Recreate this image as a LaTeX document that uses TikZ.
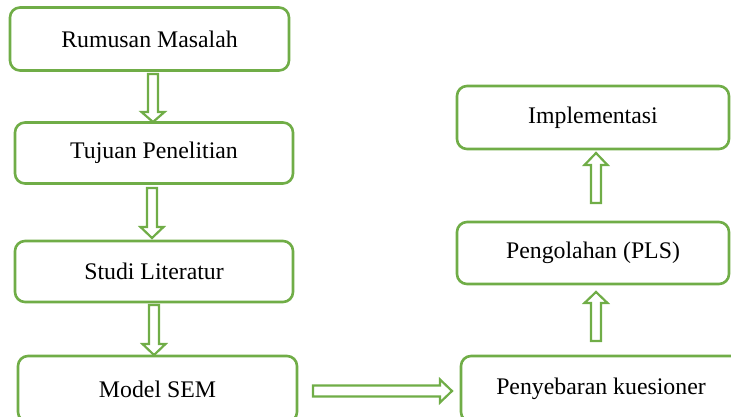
\documentclass[tikz,border=0pt]{standalone}
\usepackage{fontspec}
\setmainfont{Liberation Serif}
\definecolor{boxgreen}{HTML}{70AD47}
\tikzset{
  flowbox/.style={draw=boxgreen, line width=2.6pt, rounded corners=10pt, fill=white,
    font=\fontsize{23.8}{28}\selectfont, text=black, inner sep=0pt},
  blockarrow/.style={draw=boxgreen, line width=2.2pt, fill=white, line join=miter}
}
% x, start y, head base y, tip y
\newcommand{\vblock}[4]{%
  \draw[blockarrow] (#1-5,#2) -- (#1+5,#2) -- (#1+5,#3) -- (#1+11.5,#3) -- (#1,#4) -- (#1-11.5,#3) -- (#1-5,#3) -- cycle;}
\begin{document}
\begin{tikzpicture}[x=1pt,y=-1pt]
\useasboundingbox (0,0) rectangle (731,417);
\clip (0,0) rectangle (731,417);
% left column
\node[flowbox, minimum width=279pt, minimum height=63pt] (rm) at (149.5,39) {Rumusan Masalah};
\node[flowbox, minimum width=278pt, minimum height=61pt] (tp) at (154,153) {Tujuan Penelitian};
\node[flowbox, minimum width=278pt, minimum height=61pt] (sl) at (154,271.5) {Studi Literatur};
\node[flowbox, minimum width=279pt, minimum height=66pt] (sem) at (157.5,389) {Model SEM};
% right column
\node[flowbox, minimum width=272pt, minimum height=63pt] (im) at (593,117.5) {Implementasi};
\node[flowbox, minimum width=272pt, minimum height=62pt] (pls) at (593,253) {Pengolahan (PLS)};
\node[flowbox, minimum width=280pt, minimum height=66pt] (pk) at (601,389) {Penyebaran kuesioner};
% down arrows
\vblock{153}{74}{112}{122}
\vblock{152}{188}{227}{238}
\vblock{154}{305}{344}{355}
% up arrows
\vblock{596}{203}{165}{153}
\vblock{596}{341}{303}{292}
% right arrow
\draw[blockarrow] (313,385.5) -- (440,385.5) -- (440,379.5) -- (452,391) -- (440,402.5) -- (440,396.5) -- (313,396.5) -- cycle;
\end{tikzpicture}
\end{document}
